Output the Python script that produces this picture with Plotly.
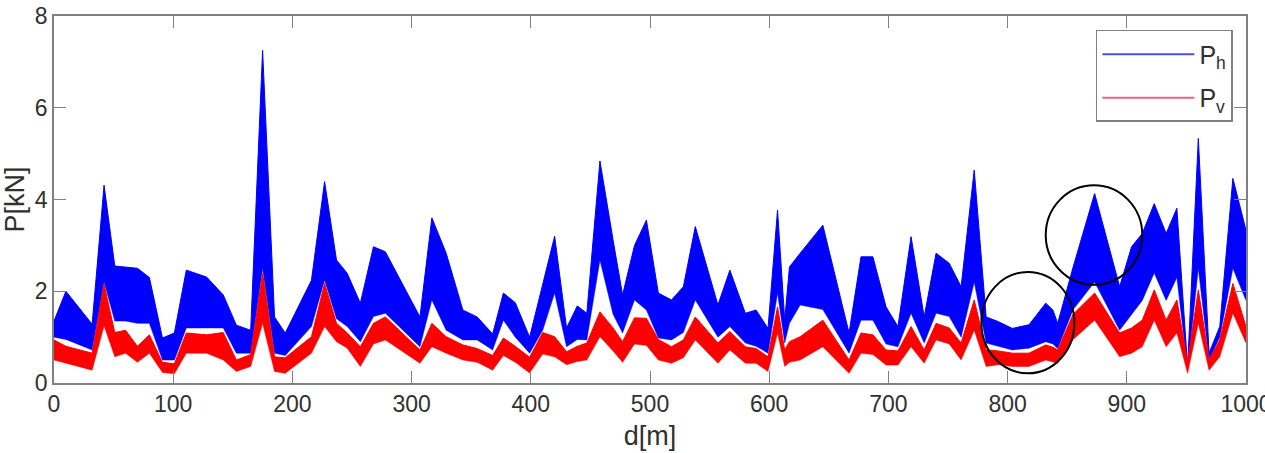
import plotly.graph_objects as go

# distance along track [m]
d_m = [0, 10, 32, 42, 51, 60, 70, 80, 91, 101, 111, 128, 142, 153, 165, 175, 185, 194,
       216, 227, 237, 246, 257, 268, 278, 307, 317, 329, 343, 355, 368, 377, 387, 399,
       410, 420, 430, 439, 447, 458, 469, 477, 487, 497, 507, 518, 528, 538, 557, 567,
       580, 589, 599, 607, 613, 617, 626, 645, 667, 677, 687, 698, 708, 719, 730, 740,
       751, 761, 772, 782, 792, 804, 818, 832, 838, 842, 855, 873, 894, 904, 913, 923,
       933, 942, 951, 960, 969, 978, 989, 1000]

# horizontal force envelope (upper / lower) [kN]
ph_upper = [1.35, 2.0, 1.28, 4.31, 2.55, 2.52, 2.5, 2.3, 0.98, 1.09, 2.46, 2.31, 1.92, 1.26, 1.15, 7.25, 1.44, 1.09,
            2.24, 4.39, 2.68, 2.39, 1.74, 2.97, 2.86, 1.44, 3.6, 2.83, 1.59, 1.44, 1.07, 1.96, 1.75, 1.0,
            2.17, 3.2, 1.2, 1.68, 1.52, 4.84, 3.12, 1.92, 3.0, 3.55, 1.96, 1.81, 2.1, 3.41, 1.7, 2.46,
            1.52, 1.59, 1.19, 3.77, 1.37, 2.53, 2.83, 3.44, 1.09, 2.75, 2.75, 1.66, 1.23, 3.19, 1.44, 2.83,
            2.61, 2.1, 4.64, 1.44, 1.34, 1.19, 1.27, 1.74, 1.59, 1.3, 2.53, 4.13, 2.1, 2.97, 3.26, 3.91,
            3.26, 3.81, 0.35, 5.33, 0.65, 1.23, 4.46, 3.33]
ph_lower = [1.0, 0.95, 0.72, 2.2, 1.35, 1.35, 1.3, 1.3, 0.5, 0.5, 1.2, 1.2, 1.2, 0.65, 0.65, 2.5, 0.65, 0.6,
            1.23, 2.24, 1.4, 1.23, 0.9, 1.45, 1.52, 0.79, 1.81, 1.15, 0.94, 0.94, 0.72, 1.37, 1.0, 0.65,
            1.15, 1.96, 0.79, 0.95, 0.94, 2.68, 1.5, 1.09, 1.81, 1.59, 0.98, 0.94, 1.1, 1.81, 1.0, 1.23,
            0.87, 0.8, 0.65, 1.96, 0.87, 1.3, 1.7, 1.6, 0.65, 1.37, 1.37, 0.85, 0.79, 1.52, 0.87, 1.52,
            1.45, 1.0, 2.2, 0.87, 0.8, 0.72, 0.76, 0.9, 0.85, 0.75, 1.6, 2.2, 1.15, 1.5, 1.8, 2.4,
            1.8, 2.3, 0.3, 2.5, 0.5, 1.0, 2.5, 1.8]

# vertical force envelope (upper / lower) [kN]
pv_upper = [0.94, 0.8, 0.65, 2.15, 1.1, 1.15, 0.8, 1.05, 0.45, 0.42, 1.09, 1.05, 1.1, 0.5, 0.62, 2.39, 0.57, 0.55,
            1.01, 2.17, 1.3, 1.09, 0.79, 1.3, 1.44, 0.72, 1.3, 1.01, 0.83, 0.75, 0.6, 0.98, 0.8, 0.56,
            1.1, 1.01, 0.68, 0.8, 0.87, 1.55, 1.2, 0.9, 1.42, 1.41, 0.95, 0.79, 0.94, 1.44, 0.87, 1.12,
            0.79, 0.75, 0.57, 1.66, 0.72, 0.9, 1.01, 1.37, 0.5, 1.09, 1.05, 0.72, 0.7, 1.23, 0.72, 1.3,
            1.2, 0.87, 1.81, 0.72, 0.7, 0.65, 0.65, 0.83, 0.78, 0.72, 1.5, 1.96, 1.09, 1.2, 1.37, 2.03,
            1.37, 1.81, 0.45, 2.03, 0.5, 0.94, 2.17, 1.23]
pv_lower = [0.5, 0.43, 0.28, 1.25, 0.57, 0.65, 0.45, 0.65, 0.23, 0.2, 0.65, 0.65, 0.5, 0.25, 0.36, 1.3, 0.25, 0.21,
            0.65, 1.23, 0.9, 0.76, 0.36, 0.85, 0.94, 0.43, 0.79, 0.65, 0.5, 0.45, 0.28, 0.6, 0.45, 0.22,
            0.63, 0.57, 0.4, 0.47, 0.5, 1.01, 0.7, 0.45, 0.85, 0.82, 0.5, 0.43, 0.55, 0.94, 0.43, 0.72,
            0.43, 0.43, 0.25, 1.09, 0.36, 0.45, 0.5, 0.79, 0.21, 0.65, 0.62, 0.39, 0.39, 0.79, 0.43, 0.94,
            0.85, 0.5, 1.15, 0.36, 0.4, 0.36, 0.36, 0.5, 0.46, 0.43, 0.95, 1.37, 0.57, 0.65, 0.79, 1.37,
            0.79, 1.09, 0.21, 1.3, 0.28, 0.57, 1.52, 0.87]

x_ticks = [0, 100, 200, 300, 400, 500, 600, 700, 800, 900, 1000]
y_ticks = [0, 2, 4, 6, 8]

# highlighted regions (data coordinates)
circle1 = dict(x0=778, x1=856, y0=0.21, y1=2.42)
circle2 = dict(x0=832, x1=913, y0=2.14, y1=4.31)

BLUE = "#0000FF"
RED = "#FF0000"
AXIS = "#808080"
TXT = "#303030"
FONT = "Liberation Sans, Arial, sans-serif"

fig = go.Figure()
fig.add_trace(go.Scatter(x=d_m, y=ph_lower, mode="lines", line=dict(color=BLUE, width=0.5),
                         showlegend=False, hoverinfo="skip"))
fig.add_trace(go.Scatter(x=d_m, y=ph_upper, mode="lines", line=dict(color=BLUE, width=1),
                         fill="tonexty", fillcolor=BLUE, showlegend=False, name="P_h"))
fig.add_trace(go.Scatter(x=d_m, y=pv_lower, mode="lines", line=dict(color=RED, width=0.5),
                         showlegend=False, hoverinfo="skip"))
fig.add_trace(go.Scatter(x=d_m, y=pv_upper, mode="lines", line=dict(color=RED, width=1),
                         fill="tonexty", fillcolor=RED, showlegend=False, name="P_v"))
# legend entries
fig.add_trace(go.Scatter(x=[None], y=[None], mode="lines", line=dict(color="#5050E0", width=2),
                         name="P<sub>h</sub>", legendgroup="h"))
fig.add_trace(go.Scatter(x=[None], y=[None], mode="lines", line=dict(color="#F06080", width=2),
                         name="P<sub>v</sub>", legendgroup="v"))

for c in (circle1, circle2):
    fig.add_shape(type="circle", xref="x", yref="y", line=dict(color="black", width=2),
                  fillcolor="rgba(0,0,0,0)", **c)

axis_common = dict(showline=True, linecolor=AXIS, linewidth=1.5, mirror="allticks",
                   ticks="inside", ticklen=12, tickcolor=AXIS, tickwidth=1.2,
                   showgrid=False, zeroline=False, ticklabeloverflow="allow", automargin=False,
                   tickfont=dict(family=FONT, size=23, color=TXT))

fig.update_xaxes(range=[0, 1000], tickvals=x_ticks, ticktext=[str(v) for v in x_ticks],
                 title=dict(text="d[m]", font=dict(family=FONT, size=27, color=TXT), standoff=10),
                 **axis_common)
fig.update_yaxes(range=[0, 8], tickvals=y_ticks, ticktext=[str(v) for v in y_ticks],
                 title=dict(text="P[kN]", font=dict(family=FONT, size=27, color=TXT), standoff=10),
                 **axis_common)

fig.update_layout(
    width=1265, height=453,
    margin=dict(l=54, r=19, t=16, b=70, autoexpand=False),
    paper_bgcolor="white", plot_bgcolor="white",
    showlegend=True,
    legend=dict(x=0.989, y=0.962, xanchor="right", yanchor="top",
                bordercolor=AXIS, borderwidth=1.5, bgcolor="white",
                font=dict(family=FONT, size=25, color=TXT),
                itemwidth=92, tracegroupgap=8),
)

fig.write_html("out.html")
